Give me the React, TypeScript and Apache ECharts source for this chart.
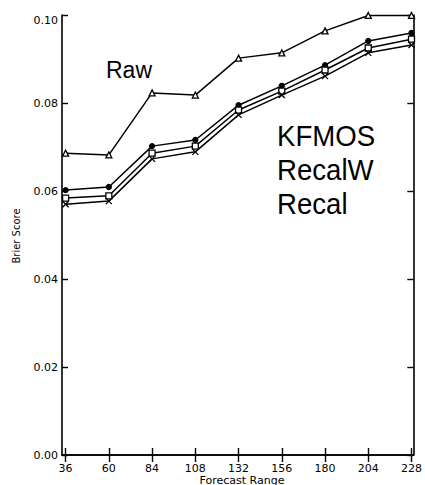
import React, { useEffect, useRef } from "react";
import * as echarts from "echarts";

// Forecast range (hours) and Brier scores for each method
const ranges = [36, 60, 84, 108, 132, 156, 180, 204, 228];
const raw = [0.0686, 0.0682, 0.0823, 0.0818, 0.0902, 0.0914, 0.0964, 0.0999, 0.0999];
const kfmos = [0.0602, 0.0609, 0.0702, 0.0716, 0.0795, 0.0839, 0.0886, 0.0941, 0.0959];
const recalW = [0.0584, 0.0589, 0.0686, 0.0702, 0.0784, 0.0827, 0.0875, 0.0925, 0.0945];
const recal = [0.057, 0.0577, 0.0673, 0.0689, 0.0773, 0.0818, 0.0861, 0.0914, 0.0932];
const methodLabels = ["KFMOS", "RecalW", "Recal"];

const AXIS_FONT = "DejaVu Sans";
const TITLE_FONT = "Liberation Sans";

const pairs = (ys: number[]) => ranges.map((x, i) => [x, ys[i]]);

const crossSymbol = "path://M0,0L10,10M10,0L0,10";

export default function App() {
  const ref = useRef<HTMLDivElement>(null);

  useEffect(() => {
    if (!ref.current) return;
    const chart = echarts.init(ref.current, undefined, { renderer: "svg" });

    const lineSeries = (
      name: string,
      ys: number[],
      symbol: string,
      size: number,
      fill: string
    ) => ({
      name,
      type: "line",
      data: pairs(ys),
      symbol,
      symbolSize: size,
      showSymbol: true,
      clip: false,
      lineStyle: { color: "#000", width: 1.5 },
      itemStyle: { color: fill, borderColor: "#000", borderWidth: 1.3 },
      z: 3,
    });

    const xCommon = {
      type: "value",
      min: 34,
      max: 229,
      splitLine: { show: false },
      axisLine: { show: true, lineStyle: { color: "#000", width: 1.6 } },
      axisTick: {
        show: true,
        inside: true,
        length: 7,
        customValues: ranges,
        lineStyle: { color: "#000", width: 1.4 },
      },
    };

    const yCommon = {
      type: "value",
      min: 0,
      max: 0.1,
      interval: 0.02,
      splitLine: { show: false },
      axisLine: { show: true, lineStyle: { color: "#000", width: 1.6 } },
      axisTick: {
        show: true,
        inside: true,
        length: 6,
        lineStyle: { color: "#000", width: 1.4 },
      },
    };

    chart.setOption({
      animation: false,
      backgroundColor: "#fff",
      grid: { left: 62, right: 8, top: 15, bottom: 30 },
      xAxis: [
        {
          ...xCommon,
          position: "bottom",
          axisLabel: {
            customValues: ranges,
            color: "#000",
            fontFamily: AXIS_FONT,
            fontSize: 11,
            lineHeight: 11,
            margin: 8,
          },
        },
        { ...xCommon, position: "top", axisLabel: { show: false } },
      ],
      yAxis: [
        {
          ...yCommon,
          position: "left",
          axisLabel: {
            color: "#000",
            fontFamily: AXIS_FONT,
            fontSize: 11,
            margin: 4,
            // the top label sits a little below the frame corner
            formatter: (v: number) =>
              v >= 0.1 ? "{top|" + v.toFixed(2) + "}" : v.toFixed(2),
            rich: {
              top: {
                fontFamily: AXIS_FONT,
                fontSize: 11,
                color: "#000",
                padding: [10, 0, 0, 0],
              },
            },
          },
        },
        { ...yCommon, position: "right", axisLabel: { show: false } },
      ],
      series: [
        lineSeries("Raw", raw, "triangle", 6, "#fff"),
        lineSeries("KFMOS", kfmos, "circle", 5, "#000"),
        lineSeries("RecalW", recalW, "rect", 6, "#fff"),
        lineSeries("Recal", recal, crossSymbol, 6, "none"),
      ],
      graphic: [
        {
          type: "text",
          x: 106,
          y: 70,
          style: {
            text: "Raw",
            fontFamily: TITLE_FONT,
            fontSize: 23,
            fill: "#000",
            align: "left",
            verticalAlign: "middle",
          },
        },
        ...methodLabels.map((t, i) => ({
          type: "text",
          x: 277,
          y: 136 + i * 34,
          scaleX: 0.92,
          style: {
            text: t,
            fontFamily: TITLE_FONT,
            fontSize: 30,
            fill: "#000",
            align: "left",
            verticalAlign: "middle",
          },
        })),
        {
          type: "text",
          x: 242,
          y: 480,
          style: {
            text: "Forecast Range",
            fontFamily: AXIS_FONT,
            fontSize: 11,
            lineHeight: 11,
            fill: "#000",
            align: "center",
            verticalAlign: "middle",
          },
        },
        {
          type: "text",
          x: 16,
          y: 236,
          rotation: Math.PI / 2,
          style: {
            text: "Brier Score",
            fontFamily: AXIS_FONT,
            fontSize: 10,
            fill: "#000",
            align: "center",
            verticalAlign: "middle",
          },
        },
      ],
    });

    return () => chart.dispose();
  }, []);

  return (
    <div
      ref={ref}
      style={{ position: "fixed", left: 0, top: 0, width: 425, height: 485 }}
    />
  );
}
